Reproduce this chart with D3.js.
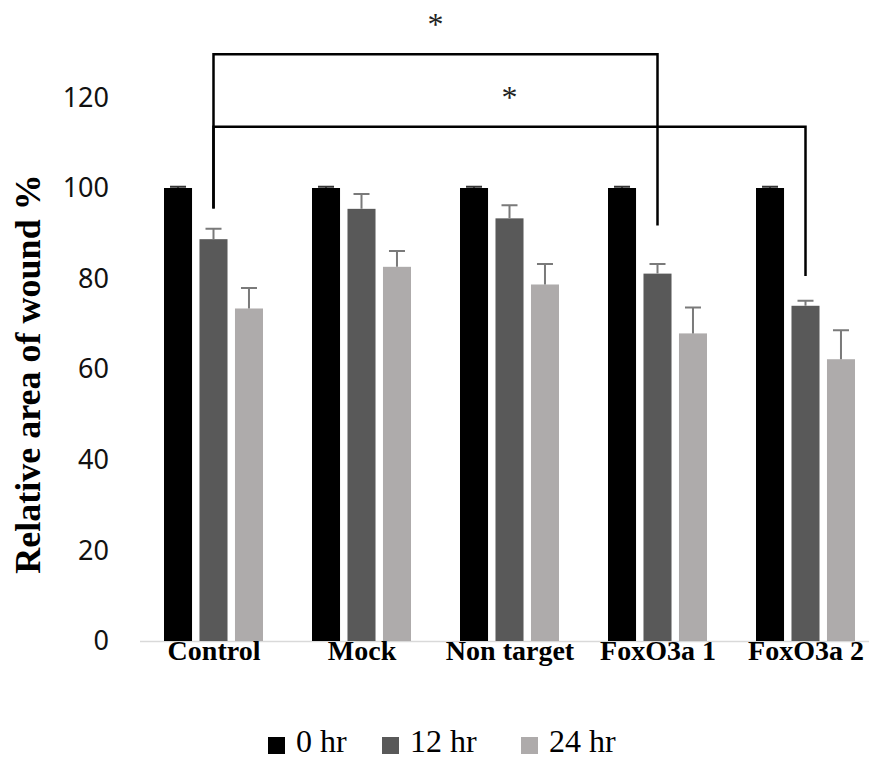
<!DOCTYPE html>
<html><head><meta charset="utf-8">
<script src="https://cdn.jsdelivr.net/npm/d3@7/dist/d3.min.js"></script>
<style>body{margin:0;background:#fff}</style>
</head><body>
<svg id="c" width="869" height="760"></svg>
<script>
const categories = ["Control", "Mock", "Non target", "FoxO3a 1", "FoxO3a 2"];
const seriesNames = ["0 hr", "12 hr", "24 hr"];
const values0 = [100, 100, 100, 100, 100];
const values12 = [88.7, 95.4, 93.3, 81.1, 74.0];
const values24 = [73.4, 82.6, 78.7, 67.9, 62.2];
const errors0 = [0.3, 0.3, 0.3, 0.3, 0.3];
const errors12 = [2.3, 3.3, 2.9, 2.1, 1.1];
const errors24 = [4.5, 3.5, 4.5, 5.7, 6.4];
const yTicks = [0, 20, 40, 60, 80, 100, 120];
const colors = ["#000000", "#595959", "#AEABAB"];
const brackets = [
  {from: "Control", to: "FoxO3a 1", level: 129.5, endFrom: 95.5, endTo: 91.7},
  {from: "Control", to: "FoxO3a 2", level: 113.5, endFrom: 95.5, endTo: 80.6}
];

const svg = d3.select("#c");
const x = d3.scaleBand().domain(categories).range([140, 880]).padding(0);
const inner = d3.scaleBand().domain(seriesNames).range([0, 99]).paddingInner(0.21).paddingOuter(0);
const y = d3.scaleLinear().domain([0, 120]).range([641, 97.4]);

const data = categories.map((c, i) => ({
  cat: c,
  items: [
    {s: seriesNames[0], v: values0[i], e: errors0[i]},
    {s: seriesNames[1], v: values12[i], e: errors12[i]},
    {s: seriesNames[2], v: values24[i], e: errors24[i]}
  ]
}));

// baseline
svg.append("line").attr("x1", 140).attr("x2", 869).attr("y1", y(0) + 0.5).attr("y2", y(0) + 0.5)
  .attr("stroke", "#d9d9d9").attr("stroke-width", 1.5);

const groupOffset = x.bandwidth() / 2 - 99 / 2 - 0.5;
const g = svg.selectAll("g.grp").data(data).enter().append("g")
  .attr("transform", d => `translate(${x(d.cat) + groupOffset},0)`);

g.selectAll("rect").data(d => d.items).enter().append("rect")
  .attr("x", d => inner(d.s)).attr("width", inner.bandwidth())
  .attr("y", d => y(d.v)).attr("height", d => y(0) - y(d.v))
  .attr("fill", (d, i) => colors[i]);

// error bars
g.selectAll("path.err").data(d => d.items).enter().append("path")
  .attr("d", d => {
    const cx = inner(d.s) + inner.bandwidth() / 2;
    return `M${cx},${y(d.v)}V${y(d.v + d.e)}M${cx - 8},${y(d.v + d.e)}H${cx + 8}`;
  })
  .attr("fill", "none").attr("stroke", (d, i) => i === 0 ? "#333" : "#7a7a7a").attr("stroke-width", 2);

// y axis tick labels
const yAxis = d3.axisLeft(y).tickValues(yTicks).tickSize(0).tickPadding(0);
const ya = svg.append("g").attr("transform", "translate(109,0)").call(yAxis);
ya.select(".domain").remove();
ya.selectAll("text").attr("font-family", "'Noto Sans', sans-serif").attr("font-size", 27).attr("fill", "#111");

// x axis labels
const xAxis = d3.axisBottom(x).tickSize(0).tickPadding(0);
const xa = svg.append("g").attr("transform", "translate(0,640)").call(xAxis);
xa.select(".domain").remove();
xa.selectAll("text").attr("font-family", "'Liberation Serif', 'Times New Roman', serif")
  .attr("font-weight", "bold").attr("font-size", 28).attr("fill", "#000");

// y title
svg.append("text").attr("transform", "translate(40,374) rotate(-90)")
  .attr("text-anchor", "middle")
  .attr("font-family", "'Liberation Serif', 'Times New Roman', serif")
  .attr("font-weight", "bold").attr("font-size", 36).text("Relative area of wound %");

// brackets
const cx12 = c => x(c) + groupOffset + inner(seriesNames[1]) + inner.bandwidth() / 2;
brackets.forEach(b => {
  const x1 = cx12(b.from), x2 = cx12(b.to);
  svg.append("path")
    .attr("d", `M${x1},${y(b.endFrom)}V${y(b.level)}H${x2}V${y(b.endTo)}`)
    .attr("fill", "none").attr("stroke", "#000").attr("stroke-width", 2.5);
  svg.append("text").attr("x", (x1 + x2) / 2).attr("y", y(b.level) - 19)
    .attr("text-anchor", "middle")
    .attr("font-family", "'Liberation Serif', serif").attr("font-size", 32).attr("fill", "#222")
    .text("*");
});

// legend
const legendX = [268, 382, 521];
const lg = svg.selectAll("g.leg").data(seriesNames).enter().append("g")
  .attr("transform", (d, i) => `translate(${legendX[i]},737)`);
lg.append("rect").attr("width", 17).attr("height", 17).attr("fill", (d, i) => colors[i]);
lg.append("text").attr("x", 28).attr("y", 15)
  .attr("font-family", "'Liberation Serif', 'Times New Roman', serif").attr("font-size", 32)
  .text(d => d);
</script>
</body></html>
